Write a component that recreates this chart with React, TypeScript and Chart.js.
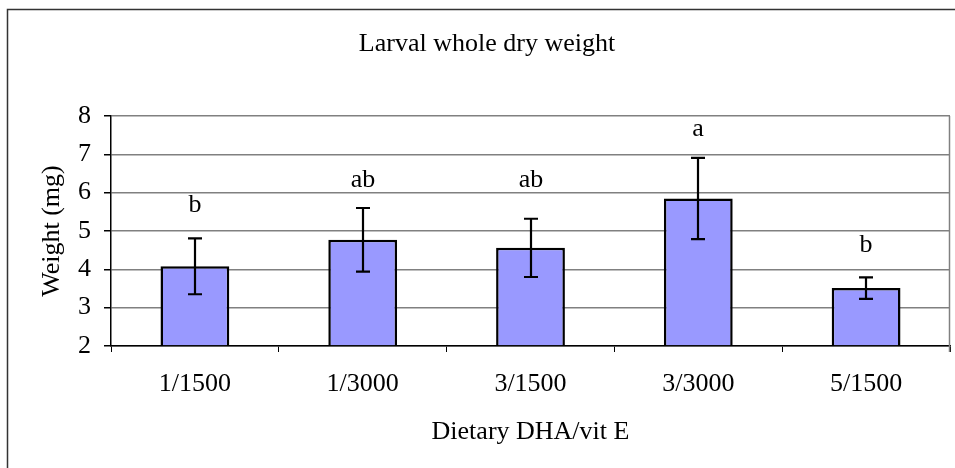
import React, { useEffect, useRef } from "react";
import { Chart, registerables } from "chart.js";

Chart.register(...registerables);

const categories = ["1/1500", "1/3000", "3/1500", "3/3000", "5/1500"];
const means = [4.08, 4.77, 4.56, 5.85, 3.51];
const errors = [0.73, 0.83, 0.76, 1.06, 0.28];
const letters = ["b", "ab", "ab", "a", "b"];
const letterLevels = [5.5, 6.14, 6.14, 7.49, 4.46];
const yMin = 2;
const yMax = 8;
const yStep = 1;
const titleText = "Larval whole dry weight";
const xTitle = "Dietary DHA/vit E";
const yTitle = "Weight (mg)";

const FONT = "'Liberation Serif', 'Times New Roman', serif";
const FS = 26;

const framePlugin = {
  id: "frame",
  beforeDraw(chart: any) {
    const { ctx, width, height } = chart;
    ctx.save();
    ctx.fillStyle = "#fff";
    ctx.fillRect(0, 0, width, height);
    ctx.strokeStyle = "#333";
    ctx.lineWidth = 1.5;
    ctx.strokeRect(7.5, 9.5, width + 20, height + 20);
    ctx.restore();
  },
  beforeDatasetsDraw(chart: any) {
    const { ctx, chartArea } = chart;
    ctx.save();
    ctx.strokeStyle = "#808080";
    ctx.lineWidth = 1.5;
    ctx.beginPath();
    const r = Math.round(chartArea.right) - 0.5;
    ctx.moveTo(r, chartArea.top);
    ctx.lineTo(r, chartArea.bottom + 6);
    ctx.stroke();
    ctx.restore();
  },
  afterDraw(chart: any) {
    const { ctx } = chart;
    ctx.save();
    ctx.fillStyle = "#000";
    ctx.font = `${FS}px ${FONT}`;
    ctx.textAlign = "center";
    ctx.textBaseline = "middle";
    ctx.fillText(titleText, 487, 44);
    ctx.restore();
  },
};

const errorPlugin = {
  id: "errorbars",
  afterDatasetsDraw(chart: any) {
    const { ctx } = chart;
    const yScale = chart.scales.y;
    const meta = chart.getDatasetMeta(0);
    ctx.save();
    ctx.strokeStyle = "#000";
    ctx.lineWidth = 2.2;
    meta.data.forEach((bar: any, i: number) => {
      const x = Math.round(bar.x);
      const top = yScale.getPixelForValue(means[i] + errors[i]);
      const bot = yScale.getPixelForValue(means[i] - errors[i]);
      ctx.beginPath();
      ctx.moveTo(x, top);
      ctx.lineTo(x, bot);
      ctx.moveTo(x - 7, top);
      ctx.lineTo(x + 7, top);
      ctx.moveTo(x - 7, bot);
      ctx.lineTo(x + 7, bot);
      ctx.stroke();
      ctx.fillStyle = "#000";
      ctx.font = `${FS}px ${FONT}`;
      ctx.textAlign = "center";
      ctx.textBaseline = "alphabetic";
      ctx.fillText(letters[i], x, yScale.getPixelForValue(letterLevels[i]));
    });
    ctx.restore();
  },
};

export default function App() {
  const ref = useRef<HTMLCanvasElement | null>(null);
  useEffect(() => {
    if (!ref.current) return;
    const chart = new Chart(ref.current, {
      type: "bar",
      data: {
        labels: categories,
        datasets: [
          {
            data: means,
            backgroundColor: "#9999FF",
            borderColor: "#000",
            borderWidth: 2.5,
            borderSkipped: "start",
            base: yMin,
            barPercentage: 0.41,
            categoryPercentage: 1,
          },
        ],
      },
      options: {
        animation: false,
        responsive: true,
        maintainAspectRatio: false,
        devicePixelRatio: 1,
        layout: { padding: { top: 116, right: 5, left: 0, bottom: 0 } },
        plugins: {
          legend: { display: false },
          tooltip: { enabled: false },
          title: { display: false },
        },
        scales: {
          x: {
            afterFit: (s: any) => {
              s.height = 122;
            },
            grid: {
              offset: true,
              drawOnChartArea: false,
              drawTicks: true,
              tickLength: 6,
              tickColor: "#000",
              color: "#000",
            },
            border: { color: "#000", width: 1.5 },
            ticks: {
              color: "#000",
              font: { family: FONT, size: FS },
              padding: 17,
              maxRotation: 0,
            },
            title: {
              display: true,
              text: xTitle,
              color: "#000",
              font: { family: FONT, size: FS },
              padding: { top: 0, bottom: 20 },
            },
          },
          y: {
            min: yMin,
            max: yMax,
            afterFit: (s: any) => {
              s.width = 111;
            },
            grid: {
              color: "#808080",
              lineWidth: 1.5,
              drawTicks: true,
              tickLength: 7,
              tickColor: "#000",
            },
            border: { color: "#000", width: 1.5 },
            ticks: {
              stepSize: yStep,
              color: "#000",
              font: { family: FONT, size: FS },
              padding: 13,
            },
            title: {
              display: true,
              text: yTitle,
              color: "#000",
              font: { family: FONT, size: FS },
              padding: { top: 37, bottom: 0 },
            },
          },
        },
      },
      plugins: [framePlugin, errorPlugin],
    });
    return () => chart.destroy();
  }, []);
  return (
    <div style={{ position: "absolute", left: 0, top: 0, width: 955, height: 468 }}>
      <canvas ref={ref} />
    </div>
  );
}
